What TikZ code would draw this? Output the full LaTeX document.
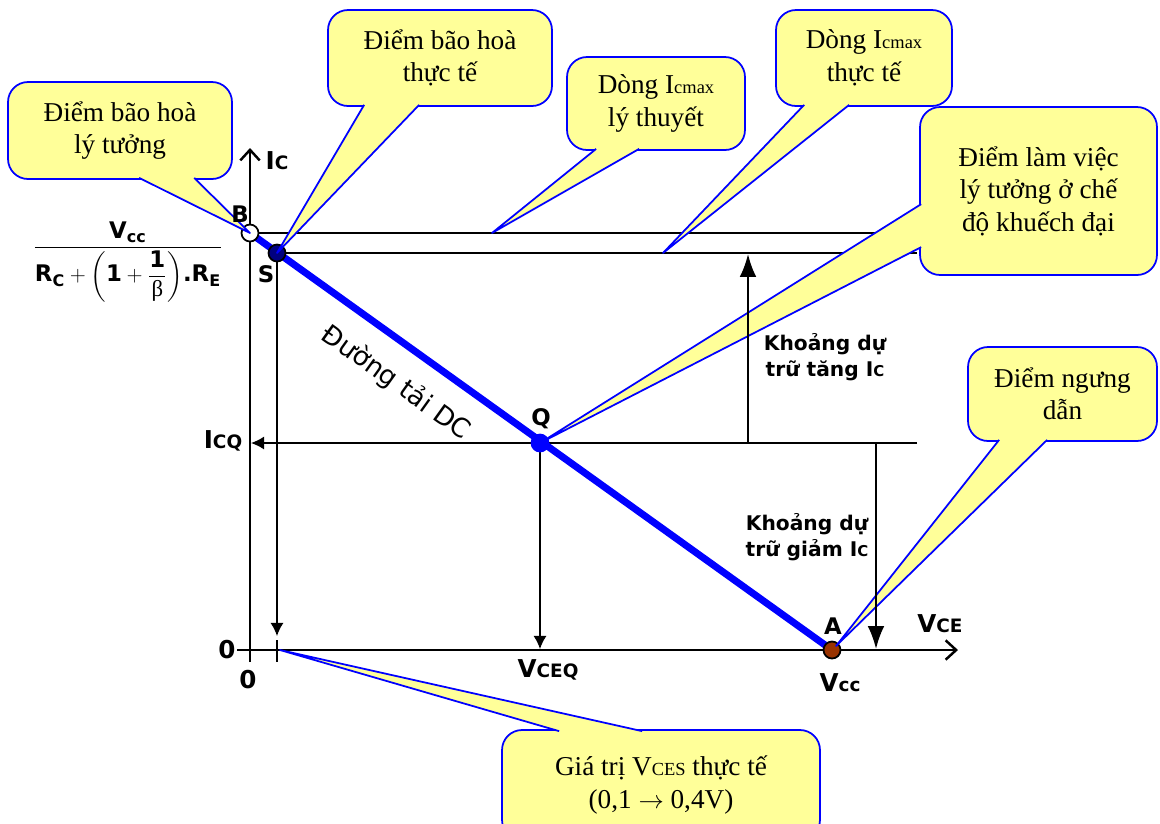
\documentclass[tikz,border=0pt]{standalone}
\usepackage{fontspec}
\usepackage{amsmath}
\setmainfont{Liberation Serif}
\setsansfont{DejaVu Sans}
\usepackage{tikz}
\usetikzlibrary{arrows.meta, calc}
\definecolor{callblue}{HTML}{0000FF}
\definecolor{callfill}{HTML}{FFFF99}
\definecolor{loadblue}{HTML}{0000FF}
\definecolor{satnavy}{HTML}{000080}
\definecolor{cutbrown}{HTML}{993300}
\newcommand{\smsub}[1]{{\fontsize{10.5}{10.5}\selectfont #1}}
\newcommand{\tinysub}[1]{{\fontsize{8.5}{8.5}\selectfont #1}}

\begin{document}
\begin{tikzpicture}[
  x=0.02cm, y=-0.02cm,
  callout/.style={rectangle, rounded corners=0.4cm, draw=callblue, fill=callfill,
                  line width=1pt, inner sep=0pt, align=center,
                  font=\fontsize{15.5}{18.5}\selectfont},
  tail/.style={draw=callblue, fill=callfill, line width=1pt, line join=round},
  axis/.style={line width=1.4pt, -{Straight Barb[length=6pt, width=11pt]}},
  guide/.style={line width=0.8pt},
  drop/.style={guide, -{Latex[length=7.5pt, width=7.5pt]}},
  margin/.style={line width=1.2pt, -{Latex[length=13pt, width=9.5pt]}},
  load/.style={draw=loadblue, line width=4pt},
  dot/.style={circle, inner sep=0pt, minimum size=0.34cm, draw=black, line width=1pt},
  pt/.style={font=\sffamily\bfseries\fontsize{13}{13}\selectfont},
  ax/.style={font=\sffamily\bfseries\fontsize{14}{14}\selectfont},
  note/.style={font=\sffamily\bfseries\fontsize{11.5}{14.5}\selectfont, align=center},
]
\useasboundingbox (0,0) rectangle (1160,823);

% working points of the load line
\coordinate (O) at (250,650);
\coordinate (B) at (250,233);
\coordinate (S) at (277,253);
\coordinate (Q) at (540,443);
\coordinate (A) at (832,650);
\coordinate (thr) at (492,233);
\coordinate (pra) at (663,253);
\coordinate (cut) at (836,646);
\coordinate (ces) at (280,650);

% axes and guides
\draw[axis] (237,650) -- (958,650);
\draw[axis] (250,662) -- (250,148);
\draw[line width=1.4pt] (277,640) -- (277,662);
\draw[guide] (B) -- (917,233);
\draw[guide] (S) -- (917,253);
\draw[drop] (917,443) -- (251,443);
\draw[drop] (S) -- (277,636);
\draw[drop] (Q) -- (540,649);

\draw[load] (B) -- (A);
\node[dot, fill=white] (ptB) at (B) {};
\node[dot, fill=satnavy] (ptS) at (S) {};
\node[dot, fill=loadblue, draw=loadblue] (ptQ) at (Q) {};
\node[dot, fill=cutbrown] (ptA) at (A) {};

% callouts
\node[callout, minimum width=4.48cm, minimum height=1.94cm] (c1) at (120,130.5) {Điểm bão hoà\\lý tưởng};
\filldraw[tail] ($(c1.south west)+(132,-2)$) -- (B) -- ($(c1.south west)+(187,-2)$);

\node[callout, minimum width=4.48cm, minimum height=1.92cm] (c2) at (440,58) {Điểm bão hoà\\thực tế};
\filldraw[tail] ($(c2.south west)+(37,-2)$) -- (S) -- ($(c2.south west)+(92,-2)$);

\node[callout, minimum width=3.56cm, minimum height=1.86cm] (c3) at (656,103.5) {Dòng I\smsub{cmax}\\lý thuyết};
\filldraw[tail] ($(c3.south west)+(30,-2)$) -- (thr) -- ($(c3.south west)+(73,-2)$);

\node[callout, minimum width=3.52cm, minimum height=1.92cm] (c4) at (864,58) {Dòng I\smsub{cmax}\\thực tế};
\filldraw[tail] ($(c4.south west)+(29,-2)$) -- (pra) -- ($(c4.south west)+(74,-2)$);

\node[callout, minimum width=4.74cm, minimum height=3.36cm] (c5) at (1038.5,191) {Điểm làm việc\\lý tưởng ở chế\\độ khuếch đại};
\filldraw[tail] ($(c5.north west)+(2,98)$) -- (Q) -- ($(c5.north west)+(2,141)$);

\node[callout, minimum width=3.78cm, minimum height=1.88cm] (c6) at (1062.5,394) {Điểm ngưng\\dẫn};
\filldraw[tail] ($(c6.south west)+(32,-2)$) -- (cut) -- ($(c6.south west)+(80,-2)$);

\node[callout, minimum width=6.36cm, minimum height=2.2cm] (c7) at (661,785) {Giá trị V\smsub{CES} thực tế\\(0,1 $\rightarrow$ 0,4V)};
\filldraw[tail] ($(c7.north west)+(58,2)$) -- (ces) -- ($(c7.north west)+(141,2)$);

% reserve margins
\draw[margin] (748,443) -- (748,254);
\draw[margin] (876,443) -- (876,649);

% labels
\node[pt] (lB) at (240,214) {B};
\node[pt] (lS) at (266,274) {S};
\node[pt] (lQ) at (541,419) {Q};
\node[pt] (lA) at (833,626) {A};
\node[ax] (lIc) at (277,161) {I\smsub{C}};
\node[ax] (lVce) at (940,624) {V\smsub{CE}};
\node[ax] (lIcq) at (223,441) {I\smsub{CQ}};
\node[ax] (lVceq) at (548,670) {V\smsub{CEQ}};
\node[ax] (lVcc) at (840,683) {V\smsub{cc}};
\node[ax] (zy) at (227,650) {0};
\node[ax] (zx) at (248,680) {0};
\node[note] (up) at (825,357) {Khoảng dự\\trữ tăng I\tinysub{C}};
\node[note] (down) at (807,537) {Khoảng dự\\trữ giảm I\tinysub{C}};
\node[font=\sffamily\fontsize{15}{15}\selectfont, rotate=-35.6] (dcl) at (396,383) {Đường tải DC};
\node[font=\fontsize{13}{16}\selectfont] (ratio) at (128,262)
  {$\dfrac{\textsf{\bfseries V}_{\textsf{\bfseries cc}}}{\textsf{\bfseries R}_{\textsf{\bfseries C}}+\left(\textsf{\bfseries 1}+\dfrac{\textsf{\bfseries 1}}{\textrm{β}}\right)\!\textsf{\bfseries .R}_{\textsf{\bfseries E}}}$};
\end{tikzpicture}
\end{document}
